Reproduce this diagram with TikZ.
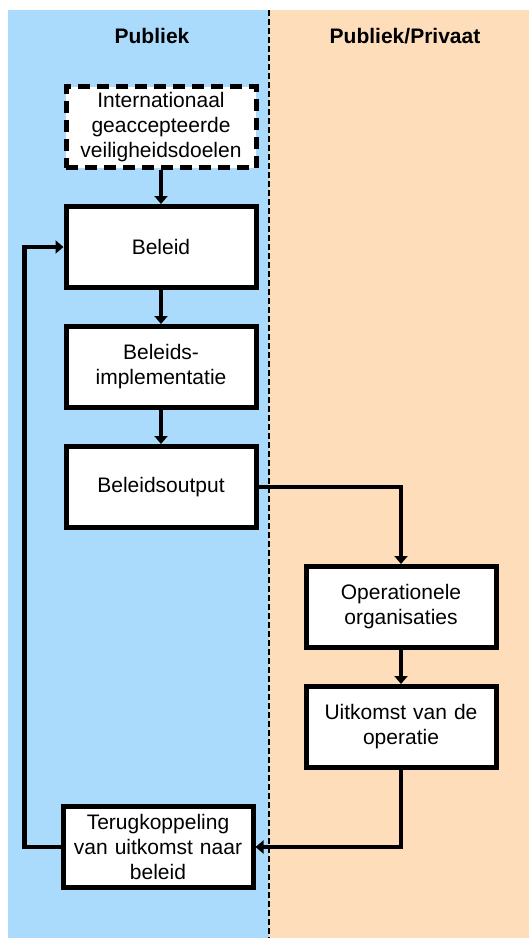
\documentclass[tikz,border=0pt]{standalone}
\usepackage{fontspec}
\setmainfont{Liberation Sans}
\usetikzlibrary{arrows.meta,positioning}
\definecolor{publiekblue}{RGB}{170,218,252}
\definecolor{privaatorange}{RGB}{253,221,186}
\tikzstyle{block} = [rectangle, draw, fill=white, line width=2.5pt, text centered, text width=90pt, minimum width=95pt, minimum height=40.5pt, inner sep=1pt, font=\fontsize{10.5}{12.5}\selectfont]
\tikzstyle{goal}  = [block, dash pattern=on 6pt off 3.5pt]
\tikzstyle{header} = [font=\fontsize{10.5}{12.5}\selectfont\bfseries]
\tikzstyle{flow} = [draw, line width=2.2pt, -{Triangle[length=4pt,width=6.5pt]}]

\begin{document}
\begin{tikzpicture}[x=0.5pt, y=-0.5pt, node distance=60pt]
            \useasboundingbox (0,0) rectangle (529,938);
            \fill[publiekblue]   (8,10) rectangle (269,938);
            \fill[privaatorange] (269,10) rectangle (529,938);
            \draw[line width=1pt, dash pattern=on 3pt off 1.5pt] (269,10) -- (269,938);
            \node[header] (publiek) at (152,36) {Publiek};
            \node[header] (privaat) at (405,36) {Publiek/Privaat};

            \node[goal] (doelen) at (161,127) {Internationaal\\geaccepteerde\\veiligheidsdoelen};
            \node[block, below of=doelen] (beleid) {Beleid};
            \node[block, below of=beleid] (implementatie) {Beleids-\\implementatie};
            \node[block, below of=implementatie] (output) {Beleidsoutput};
            \node[block, below of=output, xshift=120pt] (operationeel) {Operationele\\organisaties};
            \node[block, below of=operationeel] (uitkomst) {Uitkomst van de\\operatie};
            \node[block, below of=output, node distance=180pt, xshift=-1.5pt] (terugkoppeling) {Terugkoppeling\\van uitkomst naar\\beleid};

            \path [flow] (doelen.south) -- (beleid.north);
            \path [flow] (beleid.south) -- (implementatie.north);
            \path [flow] (implementatie.south) -- (output.north);
            \path [flow] (output.east) -| (operationeel.north);
            \path [flow] (operationeel.south) -- (uitkomst.north);
            \path [flow] (uitkomst.south) |- (terugkoppeling.east);
            \path [flow] (terugkoppeling.west) -- ++(-18pt,0) |- (beleid.west);
        \end{tikzpicture}
\end{document}
